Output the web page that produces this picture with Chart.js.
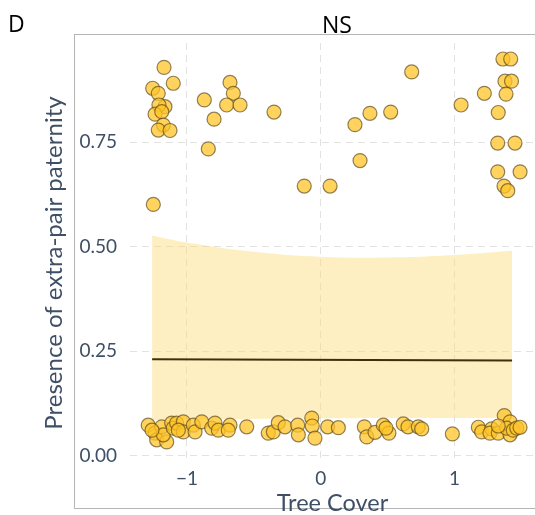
<!DOCTYPE html>
<html>
<head>
<meta charset="utf-8">
<script src="https://cdn.jsdelivr.net/npm/chart.js@4.4.0/dist/chart.umd.min.js"></script>
<style>
  html, body { margin: 0; padding: 0; background: #fff; }
  #wrap { width: 535px; height: 515px; }
</style>
</head>
<body>
<div id="wrap"><canvas id="epChart" width="535" height="515"></canvas></div>
<script>
// observed nests: tree cover (scaled) vs presence of extra-pair paternity (jittered 0/1)
const coverX = [
  -1.171, -1.102, -1.256, -1.214, -1.164, -1.209, -1.238, -1.188, -1.176, -1.214, -1.126, -1.251,
  -0.870, -0.797, -0.678, -0.653, -0.703, -0.603, -0.840, -0.349, -0.123, 0.070, 0.256, 0.368,
  0.523, 0.294, 0.680, 1.049, 1.223, 1.362, 1.420, 1.377, 1.426, 1.385, 1.327, 1.323, 1.452,
  1.323, 1.490, 1.370, 1.398,
  -1.289, -1.238, -1.188, -1.226, -1.151, -1.176, -1.114, -1.102, -1.077, -1.027, -1.027, -0.952,
  -0.939, -0.889, -0.815, -0.790, -0.765, -0.678, -0.691, -0.553, -1.261, -1.064,
  -0.392, -0.354, -0.317, -0.267, -0.172, -0.167, -0.067, -0.063, -0.043, 0.052, 0.132, 0.326,
  0.344, 0.406, 0.468, 0.510, 0.488, 0.617, 0.652, 0.729, 0.755,
  0.984, 1.178, 1.203, 1.278, 1.265, 1.327, 1.372, 1.415, 1.415, 1.390, 1.439, 1.465, 1.490, 1.327
];
const presenceY = [
  0.929, 0.891, 0.879, 0.867, 0.835, 0.839, 0.817, 0.823, 0.791, 0.779, 0.778, 0.601,
  0.851, 0.805, 0.893, 0.867, 0.839, 0.839, 0.734, 0.822, 0.645, 0.645, 0.792, 0.819,
  0.822, 0.706, 0.918, 0.839, 0.867, 0.949, 0.949, 0.896, 0.896, 0.865, 0.821, 0.748, 0.748,
  0.679, 0.679, 0.645, 0.634,
  0.073, 0.054, 0.069, 0.038, 0.033, 0.050, 0.078, 0.066, 0.078, 0.081, 0.057, 0.073,
  0.057, 0.081, 0.066, 0.078, 0.061, 0.073, 0.061, 0.069, 0.061, 0.061,
  0.054, 0.057, 0.079, 0.069, 0.073, 0.050, 0.090, 0.071, 0.042, 0.069, 0.067, 0.069,
  0.045, 0.056, 0.073, 0.054, 0.066, 0.076, 0.069, 0.069, 0.064,
  0.052, 0.068, 0.057, 0.064, 0.054, 0.054, 0.096, 0.081, 0.050, 0.066, 0.061, 0.066, 0.068, 0.071
];

// model fit and confidence band
const bandX = [-1.26, -1.0, -0.5, 0, 0.5, 1.0, 1.43];
const bandUpper = [0.527, 0.510, 0.488, 0.476, 0.474, 0.480, 0.490];
const bandLower = [0.085, 0.087, 0.088, 0.089, 0.090, 0.090, 0.090];
const fitX = [-1.26, 1.43];
const fitY = [0.231, 0.228];

const xTicks = [-1, 0, 1];
const yTicks = [0, 0.25, 0.5, 0.75];

const inkColor = '#3e4f66';
const yTitle = 'Presence of extra-pair paternity';

const toPts = (xs, ys) => xs.map((x, i) => ({ x: x, y: ys[i] }));

// panel border, y title and the "D" / "NS" labels
const decorations = {
  id: 'decorations',
  beforeDraw(chart) {
    const ctx = chart.ctx;
    ctx.save();
    ctx.strokeStyle = '#b5b5b5';
    ctx.lineWidth = 1;
    ctx.strokeRect(74.5, 34.5, 480, 474);
    ctx.restore();
  },
  afterDraw(chart) {
    const ctx = chart.ctx;
    ctx.save();
    ctx.fillStyle = '#000';
    ctx.font = '23px "Open Sans"';
    ctx.textBaseline = 'alphabetic';
    ctx.textAlign = 'left';
    ctx.fillText('D', 8, 32);
    ctx.textAlign = 'center';
    ctx.fillText('NS', 337, 33);

    ctx.translate(54, 263);
    ctx.rotate(-Math.PI / 2);
    ctx.fillStyle = inkColor;
    ctx.font = '24px Lato';
    ctx.textBaseline = 'middle';
    ctx.fillText(yTitle, 0, 0);
    ctx.restore();
  }
};

const ctx = document.getElementById('epChart').getContext('2d');
new Chart(ctx, {
  type: 'scatter',
  data: {
    datasets: [
      {
        label: 'nests',
        data: toPts(coverX, presenceY),
        pointRadius: 7,
        pointHoverRadius: 7,
        backgroundColor: 'rgba(255, 196, 40, 0.75)',
        borderColor: 'rgba(85, 68, 25, 0.65)',
        borderWidth: 1.2
      },
      {
        label: 'fit',
        data: toPts(fitX, fitY),
        showLine: true,
        pointRadius: 0,
        borderColor: '#3d300c',
        borderWidth: 2
      },
      {
        label: 'upper',
        data: toPts(bandX, bandUpper),
        showLine: true,
        pointRadius: 0,
        borderWidth: 0,
        borderColor: 'rgba(0,0,0,0)',
        backgroundColor: 'rgba(251, 219, 119, 0.45)',
        tension: 0.4,
        fill: '+1'
      },
      {
        label: 'lower',
        data: toPts(bandX, bandLower),
        showLine: true,
        pointRadius: 0,
        borderWidth: 0,
        borderColor: 'rgba(0,0,0,0)',
        tension: 0.4,
        fill: false
      }
    ]
  },
  options: {
    responsive: false,
    animation: false,
    layout: { autoPadding: false, padding: { left: 40, top: 43, right: 0, bottom: 0 } },
    plugins: {
      legend: { display: false },
      tooltip: { enabled: false }
    },
    scales: {
      x: {
        min: -1.4253,
        max: 1.6016,
        afterFit(scale) {
          scale.height = 53;
          scale.paddingLeft = 0;
          scale.paddingRight = 0;
        },
        afterBuildTicks(scale) { scale.ticks = xTicks.map(v => ({ value: v })); },
        grid: { color: '#e2e2e2', drawTicks: false },
        border: { display: false, dash: [7, 5] },
        ticks: {
          padding: 5,
          color: inkColor,
          font: { family: 'Lato', size: 19 },
          callback: v => (v < 0 ? '\u2212' + Math.abs(v) : String(v))
        },
        title: {
          display: true,
          text: 'Tree Cover',
          color: inkColor,
          font: { family: 'Lato', size: 23.5 },
          padding: { top: 0, bottom: -3 }
        }
      },
      y: {
        min: -0.0151,
        max: 0.9873,
        afterFit(scale) {
          scale.width = 90;
          scale.paddingTop = 0;
          scale.paddingBottom = 0;
        },
        afterBuildTicks(scale) { scale.ticks = yTicks.map(v => ({ value: v })); },
        grid: { color: '#e2e2e2', drawTicks: false },
        border: { display: false, dash: [7, 5] },
        ticks: {
          padding: 13,
          color: inkColor,
          font: { family: 'Lato', size: 19 },
          callback: v => v.toFixed(2)
        }
      }
    }
  },
  plugins: [decorations]
});
</script>
</body>
</html>
